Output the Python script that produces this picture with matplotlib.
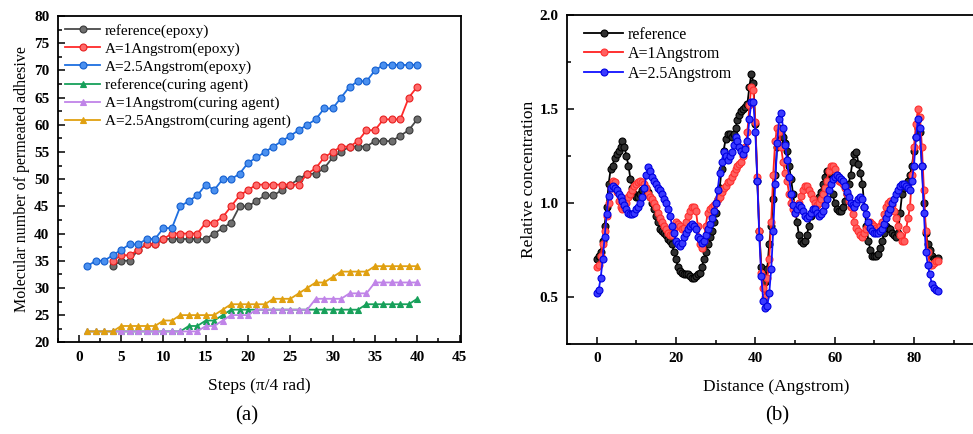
import numpy as np
import matplotlib.pyplot as plt
from matplotlib.ticker import MultipleLocator

plt.rcParams['font.family'] = ['Liberation Serif', 'DejaVu Serif']

# (a) permeated molecules vs steps
steps = list(range(1, 41))
ref_epoxy_steps = list(range(4, 41))
ref_epoxy = [34, 35, 35, 37, 38, 38, 39, 39, 39, 39, 39, 39, 40, 41, 42, 45, 45, 46, 47, 47,
             48, 49, 50, 51, 51, 52, 54, 55, 56, 56, 56, 57, 57, 57, 58, 59, 61]
a1_epoxy = [35, 36, 36, 37, 38, 38, 39, 40, 40, 40, 40, 42, 42, 43, 45, 47, 48, 49, 49, 49,
            49, 49, 49, 51, 52, 54, 55, 56, 56, 57, 59, 59, 61, 61, 61, 65, 67]
a25_epoxy = [34, 35, 35, 36, 37, 38, 38, 39, 39, 41, 41, 45, 46, 47, 49, 48, 50, 50, 51, 53,
             54, 55, 56, 57, 58, 59, 60, 61, 63, 63, 65, 67, 68, 68, 70, 71, 71, 71, 71, 71]
ref_cure = [22, 22, 22, 22, 22, 22, 22, 22, 22, 22, 22, 22, 23, 23, 24, 24, 25, 26, 26, 26,
            26, 26, 26, 26, 26, 26, 26, 26, 26, 26, 26, 26, 26, 27, 27, 27, 27, 27, 27, 28]
a1_cure = [22, 22, 22, 22, 22, 22, 22, 22, 22, 22, 22, 22, 22, 22, 23, 23, 24, 25, 25, 25,
           26, 26, 26, 26, 26, 26, 26, 28, 28, 28, 28, 29, 29, 29, 31, 31, 31, 31, 31, 31]
a25_cure = [22, 22, 22, 22, 23, 23, 23, 23, 23, 24, 24, 25, 25, 25, 25, 25, 26, 27, 27, 27,
            27, 27, 28, 28, 28, 29, 30, 31, 31, 32, 33, 33, 33, 33, 34, 34, 34, 34, 34, 34]

# (b) relative concentration profiles, 0.5 Angstrom bins
distance = np.arange(0, 86.5, 0.5)
conc_ref = [0.70, 0.72, 0.74, 0.80, 0.88, 0.98, 1.10, 1.18, 1.20, 1.24,
            1.26, 1.28, 1.30, 1.33, 1.30, 1.25, 1.20, 1.13, 1.08, 1.05,
            1.03, 1.03, 1.05, 1.07, 1.08, 1.08, 1.06, 1.03, 1.00, 0.97,
            0.93, 0.90, 0.86, 0.85, 0.84, 0.83, 0.81, 0.80, 0.78, 0.74,
            0.70, 0.66, 0.64, 0.63, 0.62, 0.62, 0.62, 0.61, 0.60, 0.60,
            0.61, 0.62, 0.63, 0.66, 0.70, 0.74, 0.78, 0.82, 0.85, 0.90,
            0.95, 1.02, 1.08, 1.18, 1.28, 1.34, 1.37, 1.37, 1.35, 1.37,
            1.40, 1.44, 1.47, 1.49, 1.50, 1.51, 1.53, 1.62, 1.69, 1.64,
            1.42, 1.12, 0.85, 0.66, 0.63, 0.58, 0.65, 0.78, 0.88, 1.02,
            1.15, 1.30, 1.40, 1.38, 1.35, 1.32, 1.28, 1.20, 1.13, 1.05,
            0.97, 0.90, 0.83, 0.80, 0.79, 0.80, 0.83, 0.88, 0.93, 0.96,
            0.98, 1.00, 1.03, 1.06, 1.10, 1.14, 1.17, 1.16, 1.12, 1.05,
            1.00, 0.97, 0.96, 0.96, 0.98, 1.01, 1.05, 1.10, 1.15, 1.22,
            1.26, 1.27, 1.21, 1.16, 1.10, 0.98, 0.88, 0.80, 0.75, 0.72,
            0.72, 0.72, 0.73, 0.76, 0.80, 0.84, 0.88, 0.87, 0.86, 0.84,
            0.83, 0.82, 0.84, 0.95, 1.05, 1.08, 1.10, 1.12, 1.15, 1.20,
            1.28, 1.35, 1.40, 1.38, 1.20, 1.00, 0.84, 0.78, 0.75, 0.72,
            0.70, 0.70, 0.71]
conc_a1 = [0.66, 0.67, 0.72, 0.78, 0.85, 0.93, 1.00, 1.08, 1.12, 1.11,
           1.06, 1.01, 0.98, 0.97, 0.98, 1.00, 1.03, 1.05, 1.07, 1.09,
           1.10, 1.11, 1.12, 1.11, 1.10, 1.08, 1.05, 1.03, 1.02, 1.00,
           0.98, 0.95, 0.92, 0.90, 0.88, 0.86, 0.84, 0.83, 0.83, 0.86,
           0.90, 0.89, 0.88, 0.86, 0.87, 0.90, 0.93, 0.96, 0.98, 0.98,
           0.96, 0.88, 0.78, 0.76, 0.80, 0.88, 0.95, 0.97, 0.98, 0.99,
           1.00, 1.02, 1.03, 1.06, 1.08, 1.09, 1.11, 1.12, 1.14, 1.16,
           1.18, 1.20, 1.21, 1.22, 1.25, 1.30, 1.38, 1.52, 1.62, 1.60,
           1.43, 1.14, 0.85, 0.63, 0.55, 0.50, 0.60, 0.70, 0.90, 1.15,
           1.33, 1.40, 1.38, 1.30, 1.22, 1.16, 1.12, 1.05, 1.00, 0.97,
           0.95, 0.97, 1.00, 1.04, 1.07, 1.09, 1.09, 1.07, 1.05, 1.02,
           1.00, 0.99, 1.00, 1.02, 1.05, 1.08, 1.12, 1.17, 1.20, 1.20,
           1.18, 1.15, 1.12, 1.11, 1.10, 1.08, 1.05, 1.01, 0.98, 0.94,
           0.90, 0.87, 0.85, 0.83, 0.82, 0.84, 0.86, 0.88, 0.90, 0.89,
           0.88, 0.87, 0.86, 0.88, 0.90, 0.94, 0.98, 1.00, 1.01, 0.99,
           0.96, 0.92, 0.88, 0.83, 0.80, 0.80, 0.86, 0.92, 0.98, 1.15,
           1.30, 1.42, 1.50, 1.46, 1.30, 1.07, 0.85, 0.74, 0.67, 0.67,
           0.68, 0.69, 0.69]
conc_a25 = [0.52, 0.54, 0.60, 0.70, 0.82, 0.94, 1.04, 1.08, 1.09, 1.08,
            1.07, 1.05, 1.03, 1.01, 0.99, 0.97, 0.95, 0.94, 0.94, 0.95,
            0.97, 0.98, 1.00, 1.03, 1.08, 1.15, 1.19, 1.17, 1.14, 1.12,
            1.10, 1.08, 1.07, 1.05, 1.02, 1.00, 0.97, 0.93, 0.88, 0.84,
            0.80, 0.78, 0.77, 0.79, 0.82, 0.84, 0.86, 0.88, 0.89, 0.88,
            0.86, 0.82, 0.81, 0.79, 0.80, 0.83, 0.86, 0.89, 0.92, 0.96,
            1.00, 1.07, 1.16, 1.22, 1.27, 1.25, 1.23, 1.25, 1.27, 1.31,
            1.35, 1.33, 1.30, 1.28, 1.26, 1.29, 1.33, 1.45, 1.54, 1.54,
            1.38, 1.12, 0.82, 0.61, 0.48, 0.44, 0.45, 0.52, 0.65, 0.85,
            1.10, 1.32, 1.45, 1.48, 1.40, 1.31, 1.23, 1.14, 1.05, 0.99,
            0.95, 0.97, 0.99, 0.98, 0.96, 0.93, 0.92, 0.93, 0.95, 0.97,
            0.97, 0.95, 0.93, 0.94, 0.96, 0.99, 1.02, 1.07, 1.10, 1.13,
            1.14, 1.15, 1.14, 1.13, 1.12, 1.09, 1.06, 1.03, 1.00, 0.99,
            0.98, 1.00, 1.02, 1.03, 1.02, 0.98, 0.94, 0.90, 0.87, 0.85,
            0.84, 0.84, 0.84, 0.85, 0.86, 0.89, 0.92, 0.95, 0.97, 1.00,
            1.02, 1.05, 1.07, 1.09, 1.10, 1.10, 1.09, 1.08, 1.07, 1.12,
            1.20, 1.35, 1.45, 1.40, 1.20, 0.95, 0.74, 0.67, 0.62, 0.57,
            0.55, 0.54, 0.53]

fig = plt.figure(figsize=(9.73, 4.34), dpi=100)
ax1 = fig.add_axes([0.0593, 0.2113, 0.4147, 0.7517])
ax2 = fig.add_axes([0.5827, 0.2074, 0.43, 0.7573])

# left panel
mk = dict(markersize=5, linewidth=1.3, markeredgewidth=0.8)
ax1.plot(ref_epoxy_steps, ref_epoxy, '-o', color='#4a4a4a', mfc='#6e6e6e', mec='#3a3a3a', label='reference(epoxy)', **mk)
ax1.plot(ref_epoxy_steps, a1_epoxy, '-o', color='#ff2a2a', mfc='#ff6a6a', mec='#e82020', label='A=1Angstrom(epoxy)', **mk)
ax1.plot(steps, a25_epoxy, '-o', color='#1e6fe0', mfc='#4a90f0', mec='#1560d0', label='A=2.5Angstrom(epoxy)', **mk)
ax1.plot(steps, ref_cure, '-^', color='#17a05a', mfc='#17a05a', mec='#17a05a', label='reference(curing agent)', **mk)
ax1.plot(steps, a1_cure, '-^', color='#c084e8', mfc='#c084e8', mec='#c084e8', label='A=1Angstrom(curing agent)', **mk)
ax1.plot(steps, a25_cure, '-^', color='#e0a010', mfc='#e0a010', mec='#e0a010', label='A=2.5Angstrom(curing agent)', **mk)
ax1.set_xlim(-2.5, 45.2)
ax1.set_ylim(20, 80)
ax1.xaxis.set_major_locator(MultipleLocator(5))
ax1.xaxis.set_minor_locator(MultipleLocator(2.5))
ax1.yaxis.set_major_locator(MultipleLocator(5))
ax1.yaxis.set_minor_locator(MultipleLocator(2.5))
ax1.set_xlabel('Steps (\u03c0/4 rad)', fontsize=12.5, labelpad=10)
ax1.set_ylabel('Molecular number of permeated adhesive', fontsize=11.5, labelpad=3)
ax1.legend(loc='upper left', frameon=False, fontsize=11, handlelength=2.3,
           handletextpad=0.3, labelspacing=0.28, borderaxespad=0.3, borderpad=0.2)

# right panel
mk2 = dict(markersize=5, linewidth=1.3, markeredgewidth=0.8)
ax2.plot(distance, conc_ref, '-o', color='black', mfc='#303030', mec='black', label='reference', **mk2)
ax2.plot(distance, conc_a1, '-o', color='#ff2020', mfc='#ff6060', mec='#ff3030', label='A=1Angstrom', **mk2)
ax2.plot(distance, conc_a25, '-o', color='#1010ff', mfc='#3a3aff', mec='#0000e0', label='A=2.5Angstrom', **mk2)
ax2.set_xlim(-7.5, 98)
ax2.set_ylim(0.25, 2.0)
ax2.xaxis.set_major_locator(MultipleLocator(20))
ax2.xaxis.set_minor_locator(MultipleLocator(10))
ax2.yaxis.set_major_locator(MultipleLocator(0.5))
ax2.yaxis.set_minor_locator(MultipleLocator(0.25))
ax2.set_xlabel('Distance (Angstrom)', fontsize=12.5, labelpad=10)
ax2.set_ylabel('Relative concentration', fontsize=12.5, labelpad=2)
ax2.legend(loc='upper left', frameon=False, fontsize=11.5, handlelength=2.4,
           handletextpad=0.3, labelspacing=0.22, borderaxespad=0.3, borderpad=0.4,
           bbox_to_anchor=(0.015, 1.0))

for ax in (ax1, ax2):
    ax.tick_params(which='both', direction='in', top=False, right=False, labelsize=11, width=1.1, pad=6)
    ax.tick_params(which='major', length=5)
    ax.tick_params(which='minor', length=3)
    for lab in ax.get_xticklabels() + ax.get_yticklabels():
        lab.set_fontweight('bold')
    for s in ax.spines.values():
        s.set_linewidth(1.3)

fig.text(0.254, 0.032, '(a)', fontsize=15, ha='center')
fig.text(0.799, 0.032, '(b)', fontsize=15, ha='center')

fig.savefig('out.png', dpi=100)
